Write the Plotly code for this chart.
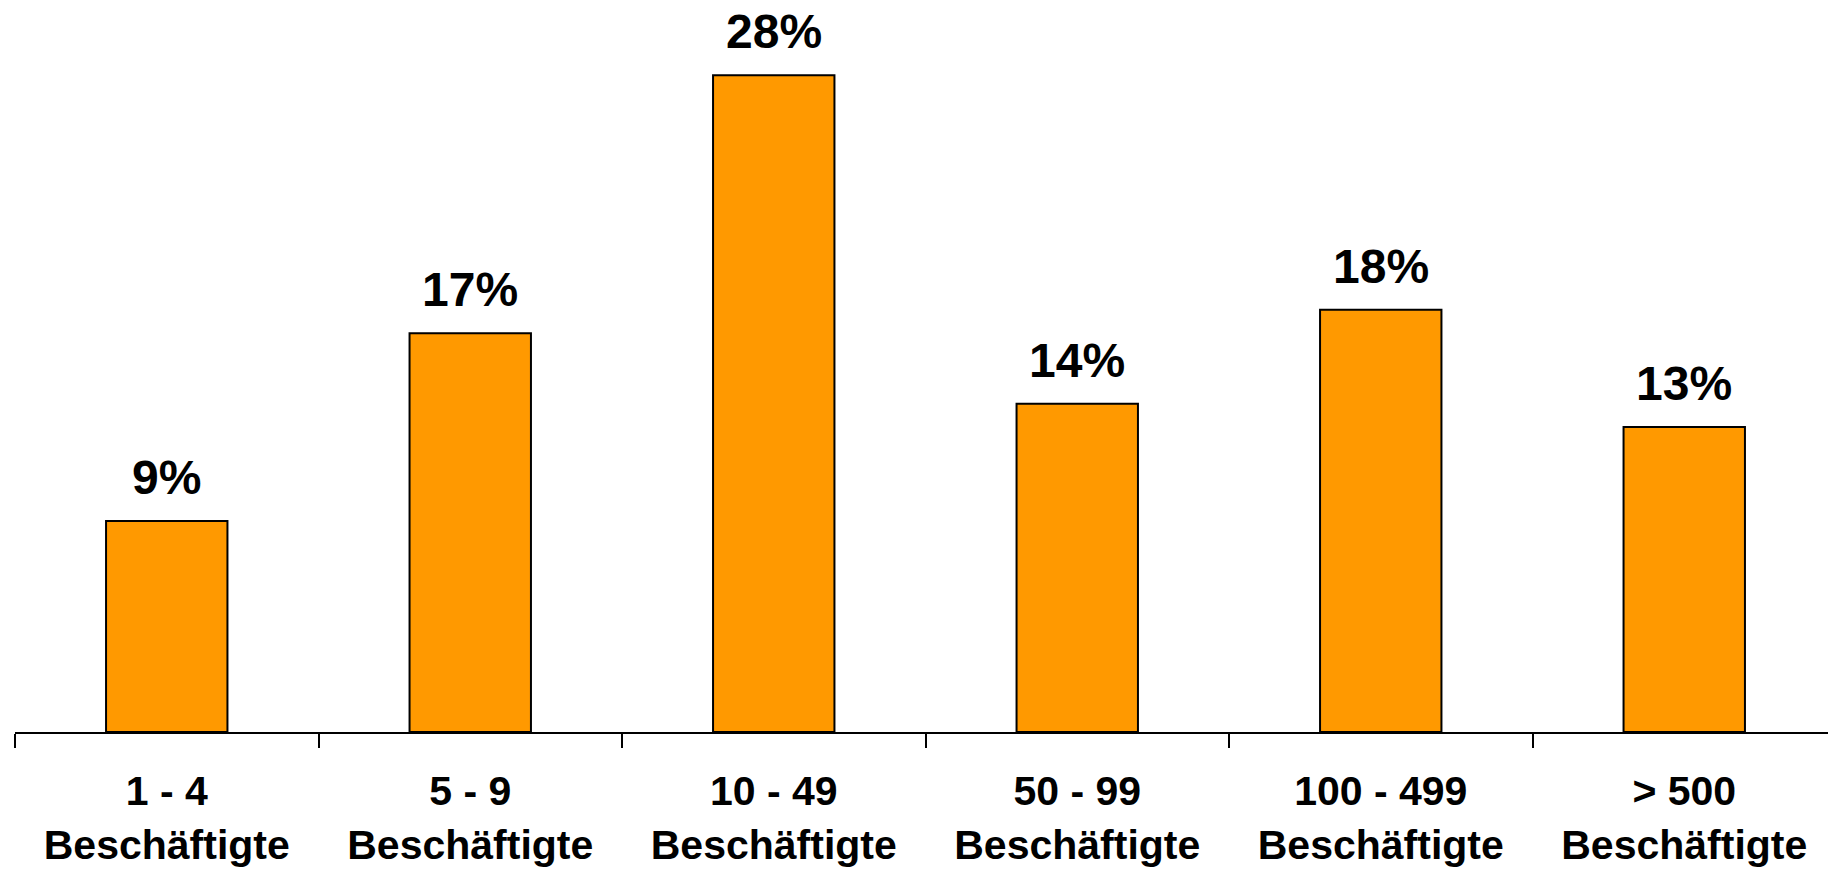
import plotly.graph_objects as go

categories = ["1 - 4<br>Beschäftigte", "5 - 9<br>Beschäftigte", "10 - 49<br>Beschäftigte",
              "50 - 99<br>Beschäftigte", "100 - 499<br>Beschäftigte", "> 500<br>Beschäftigte"]
values = [9, 17, 28, 14, 18, 13]
labels = ["9%", "17%", "28%", "14%", "18%", "13%"]

fig = go.Figure()
fig.add_trace(go.Bar(
    x=categories, y=values,
    marker=dict(color="#FF9900", line=dict(color="black", width=2)),
    width=0.4,
    hoverinfo="skip",
))

for c, v, t in zip(categories, values, labels):
    fig.add_annotation(x=c, y=v, text=t, showarrow=False, yanchor="bottom", yshift=16,
                       borderpad=0,
                       font=dict(family="Liberation Sans, Arial", size=48, color="black", weight="bold"))

fig.update_layout(
    width=1828, height=861,
    margin=dict(l=7, r=0, t=0, b=137),
    paper_bgcolor="white", plot_bgcolor="white",
    showlegend=False,
    font=dict(family="Liberation Sans, Arial", color="black"),
)
fig.update_xaxes(
    automargin=False,
    showline=True, linecolor="black", linewidth=2,
    ticks="outside", ticklen=14, tickwidth=2, tickcolor="black",
    tickson="boundaries",
    ticklabelstandoff=22,
    tickfont=dict(size=41, weight="bold", family="Liberation Sans, Arial", color="black"),
    showgrid=False,
)
fig.update_yaxes(range=[0, 30.87], visible=False, showgrid=False, zeroline=False, automargin=False)

fig.write_html("out.html")
